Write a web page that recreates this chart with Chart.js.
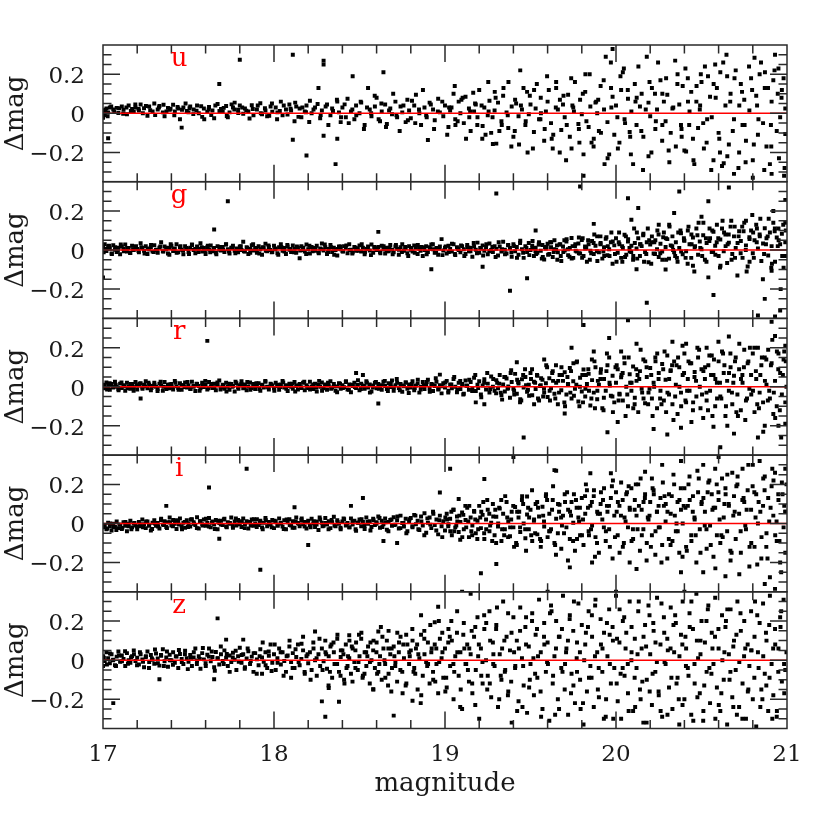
<!DOCTYPE html>
<html>
<head>
<meta charset="utf-8">
<script src="https://cdn.jsdelivr.net/npm/chart.js@4.4.1/dist/chart.umd.min.js"></script>
<style>
  html, body { margin: 0; padding: 0; background: #fff; }
  canvas { display: block; }
</style>
</head>
<body>
<canvas id="residuals" width="830" height="830"></canvas>
<script>
// Photometric residuals per band: flat pairs of magnitude, delta in mmag

const bands = ["u", "g", "r", "i", "z"];
const magTicks = [17, 18, 19, 20, 21];
const dmagTicks = [-0.2, 0, 0.2];
const dmagTickLabels = ["\u22120.2", "0", "0.2"];

const uData = [
  17.00,-22, 17.01,-8, 17.01,12, 17.02,25, 17.03,-127, 17.03,5, 17.04,30, 17.06,20, 17.08,28, 17.09,2,
  17.11,35, 17.12,18, 17.14,-5, 17.15,40, 17.17,22, 17.18,8, 17.19,30,
  17.21,15, 17.22,45, 17.24,26, 17.26,-12, 17.27,35, 17.29,10,
  17.30,50, 17.32,20, 17.33,38, 17.35,5, 17.36,-15, 17.38,28, 17.39,18,
  17.41,44, 17.42,10, 17.44,25, 17.45,-30, 17.46,-73, 17.47,30, 17.49,12,
  17.50,5, 17.51,35, 17.53,20, 17.55,40, 17.56,0, 17.58,-18, 17.59,25,
  17.61,8, 17.62,32, 17.64,15, 17.65,-25, 17.67,48, 17.68,150, 17.69,22,
  17.70,10, 17.72,38, 17.73,-20, 17.74,5, 17.76,30, 17.77,55, 17.79,18,
  17.80,275, 17.80,40, 17.82,-2, 17.83,25, 17.85,10, 17.87,42, 17.88,-10,
  17.90,20, 17.92,52, 17.93,-5, 17.95,15, 17.96,-15, 17.98,35, 17.99,8,
  18.01,30, 18.02,5, 18.04,60, 18.05,-10, 18.07,20, 18.09,45,
  18.10,15, 18.11,300, 18.11,-135, 18.12,-40, 18.13,35, 18.15,25, 18.16,-20, 18.18,10, 18.19,-216, 18.19,40,
  18.21,65, 18.22,0, 18.24,30, 18.26,130, 18.27,-25, 18.28,15, 18.29,270, 18.29,250, 18.29,-115,
  18.31,45, 18.33,-10, 18.34,25, 18.36,-260, 18.37,-130, 18.37,60, 18.38,5, 18.39,-45,
  18.40,30, 18.42,-20, 18.43,75, 18.45,10, 18.46,190, 18.47,-30, 18.48,40,
  18.50,0, 18.51,55, 18.53,-60, 18.55,130, 18.56,20, 18.57,-15, 18.59,35,
  18.60,80, 18.62,-40, 18.63,10, 18.64,210, 18.65,45, 18.66,-55, 18.68,25, 18.69,-5,
  18.71,60, 18.72,-20, 18.74,35, 18.75,5, 18.77,-45, 18.78,70, 18.79,15,
  18.80,-25, 18.82,40, 18.83,95, 18.85,0, 18.86,-60, 18.88,30, 18.89,-10,
  18.90,-137, 18.91,55, 18.93,20, 18.94,-35, 18.96,75, 18.97,5, 18.99,-15,
  19.00,40, 19.02,-70, 19.03,15, 19.05,100, 19.06,-30, 19.08,60, 19.09,0,
  19.11,-50, 19.12,85, 19.14,25, 19.15,-90, 19.17,10, 19.18,45, 19.19,-20,
  19.20,120, 19.22,-65, 19.23,30, 19.25,-10, 19.26,65, 19.27,-100, 19.28,-157, 19.29,15,
  19.30,-155, 19.31,55, 19.33,-40, 19.34,90, 19.36,5, 19.37,-75, 19.39,35,
  19.40,-120, 19.41,70, 19.43,-15, 19.44,220, 19.45,20, 19.47,-60, 19.48,110, 19.49,-5,
  19.50,45, 19.52,-95, 19.53,25, 19.55,-30, 19.56,80, 19.58,-140, 19.59,10,
  19.60,60, 19.62,-50, 19.63,-180, 19.65,160, 19.65,130, 19.66,20, 19.68,-85, 19.69,45,
  19.70,-20, 19.72,95, 19.73,-120, 19.74,-180, 19.75,30, 19.76,160, 19.78,-55, 19.79,70,
  19.80,-5, 19.81,-210, 19.81,-320, 19.82,110, 19.84,-70, 19.85,35, 19.87,-130, 19.88,55, 19.89,0,
  19.90,-90, 19.91,140, 19.93,20, 19.94,290, 19.95,-45, 19.96,-210, 19.97,260, 19.98,330, 19.98,85, 19.99,-110,
  20.00,40, 20.02,-150, 20.03,120, 20.04,210, 20.05,-30, 20.07,75, 20.08,-95, 20.09,10,
  20.10,-260, 20.11,150, 20.12,-60, 20.14,35, 20.15,100, 20.16,-120, 20.18,290, 20.19,-220, 20.19,55,
  20.20,-15, 20.21,130, 20.23,-80, 20.24,20, 20.26,170, 20.27,-140, 20.28,60, 20.29,-40,
  20.30,95, 20.32,-100, 20.33,25, 20.35,-170, 20.36,200, 20.37,45, 20.38,-60, 20.39,140,
  20.40,-190, 20.41,-195, 20.42,180, 20.43,10, 20.44,110, 20.45,-130, 20.47,60, 20.48,-75, 20.49,20,
  20.50,160, 20.51,-50, 20.52,240, 20.53,-150, 20.55,85, 20.56,-20, 20.57,-240, 20.58,250, 20.59,130,
  20.60,-100, 20.61,210, 20.62,-270, 20.63,-255, 20.64,40, 20.65,190, 20.66,-160, 20.67,100, 20.69,-310, 20.69,-30,
  20.70,220, 20.72,-200, 20.73,150, 20.74,-60, 20.75,70, 20.76,-140, 20.78,15, 20.79,180,
  20.80,-240, 20.80,-330, 20.81,285, 20.82,90, 20.83,-110, 20.84,200, 20.86,-50, 20.87,130, 20.88,-170,
  20.90,-260, 20.91,-310, 20.91,60, 20.92,170, 20.93,300, 20.94,-90, 20.95,230, 20.96,-20, 20.97,120, 20.98,180, 20.99,-106, 20.99,25
];
const uMore = [
  17.013,18, 17.027,-15, 17.048,35, 17.066,8, 17.094,26, 17.118,-2, 17.137,30, 17.163,12, 17.189,45,
  17.208,22, 17.233,0, 17.251,38, 17.276,16, 17.305,-8, 17.327,30, 17.354,44, 17.371,10, 17.395,24,
  17.417,-10, 17.436,32, 17.462,18, 17.483,50, 17.506,26, 17.528,-4, 17.547,14, 17.574,36, 17.592,-30,
  17.618,20, 17.633,-8, 17.657,40, 17.681,12, 17.706,28, 17.724,-14, 17.752,46, 17.768,20, 17.791,2,
  17.814,30, 17.838,14, 17.857,-26, 17.876,22, 17.905,40, 17.923,0, 17.947,26, 17.972,-12, 17.988,50,
  18.018,-30, 18.034,12, 18.057,40, 18.079,-6, 18.097,24, 18.124,55, 18.143,-18, 18.166,30, 18.187,6,
  18.206,-44, 18.231,20, 18.255,48, 18.273,-8, 18.302,35, 18.318,-60, 18.345,12, 18.368,70, 18.392,-20,
  18.413,46, 18.437,-50, 18.458,20, 18.481,-10, 18.507,60, 18.526,-80, 18.544,30, 18.568,0, 18.589,90,
  18.612,-30, 18.628,50, 18.655,-70, 18.673,15, 18.697,100, 18.716,-10, 18.735,-90, 18.757,40, 18.783,-35,
  18.807,65, 18.826,-50, 18.848,20, 18.871,120, 18.893,-20, 18.917,45, 18.936,-80, 18.958,10, 18.984,60,
  19.013,-110, 19.038,30, 19.057,140, 19.074,-40, 19.096,70, 19.123,-130, 19.147,10, 19.165,105, 19.189,-60,
  19.214,40, 19.237,-110, 19.253,160, 19.278,-20, 19.296,80, 19.318,-90, 19.342,130, 19.367,-10, 19.388,-170,
  19.416,50, 19.433,-160, 19.459,130, 19.472,-40, 19.496,90, 19.514,-180, 19.537,150, 19.561,0, 19.583,-80,
  19.607,120, 19.624,-130, 19.648,30, 19.671,-200, 19.693,90, 19.712,-60, 19.738,180, 19.754,10, 19.786,-150,
  19.806,100, 19.827,-40, 19.846,200, 19.869,-170, 19.884,60, 19.912,-100, 19.928,170, 19.951,-230, 19.973,30,
  20.011,-180, 20.026,190, 20.053,-50, 20.069,120, 20.087,-210, 20.114,60, 20.131,240, 20.148,-90, 20.174,20,
  20.207,-200, 20.228,100, 20.246,260, 20.271,-60, 20.293,180, 20.312,-250, 20.335,30, 20.359,150, 20.384,-120,
  20.406,230, 20.428,-60, 20.453,-240, 20.471,140, 20.492,40, 20.514,-180, 20.538,190, 20.557,-290, 20.583,80,
  20.604,-130, 20.627,260, 20.651,-220, 20.668,60, 20.693,180, 20.716,-280, 20.737,110, 20.752,-60, 20.778,240,
  20.806,-160, 20.825,40, 20.848,260, 20.867,-290, 20.889,130, 20.906,-60, 20.927,220, 20.953,-230, 20.968,80, 20.986,-280
];
const uCore = [
  19.024,30, 19.061,-60, 19.103,80, 19.142,-20, 19.176,50, 19.218,-130, 19.255,10, 19.291,110, 19.332,-60, 19.371,160,
  19.408,-90, 19.444,40, 19.483,-200, 19.521,120, 19.558,-30, 19.597,190, 19.633,-110, 19.672,70, 19.708,-240, 19.745,40,
  19.783,-80, 19.821,200, 19.857,-150, 19.896,70, 19.933,-260, 19.971,130, 20.008,-20, 20.046,230, 20.083,-120, 20.121,80,
  20.158,-290, 20.196,160, 20.233,-40, 20.271,100, 20.308,-190, 20.346,270, 20.383,-80, 20.421,60, 20.458,-260, 20.496,200,
  20.533,-30, 20.571,150, 20.608,-200, 20.646,300, 20.683,-90, 20.721,40, 20.758,-250, 20.796,120, 20.833,-30, 20.871,210,
  20.908,-170, 20.946,100, 20.983,-320
];

const gData = [
  17.00,-140, 17.00,15, 17.01,30, 17.02,-5, 17.03,20, 17.04,8, 17.05,-18, 17.06,25, 17.07,2, 17.08,-10, 17.09,12,
  17.10,-22, 17.11,18, 17.12,5, 17.13,28, 17.14,-8, 17.15,10, 17.16,-15, 17.17,22, 17.18,0, 17.19,14,
  17.20,6, 17.21,-12, 17.22,35, 17.23,10, 17.24,-4, 17.25,20, 17.26,-20, 17.27,3, 17.28,16, 17.29,-8,
  17.30,25, 17.31,0, 17.32,-14, 17.33,12, 17.34,40, 17.35,-6, 17.36,18, 17.37,4, 17.38,-18, 17.39,10,
  17.40,22, 17.41,-5, 17.42,8, 17.43,30, 17.44,-12, 17.45,15, 17.46,2, 17.47,-22, 17.48,20, 17.49,6,
  17.50,-10, 17.51,12, 17.52,28, 17.53,0, 17.54,-16, 17.55,18, 17.56,5, 17.57,35, 17.58,-8, 17.59,10,
  17.60,-20, 17.61,14, 17.62,3, 17.63,24, 17.64,-6, 17.65,105, 17.65,10, 17.66,-14, 17.67,20, 17.68,2, 17.69,-2,
  17.70,16, 17.71,-10, 17.72,30, 17.73,250, 17.73,4, 17.74,-18, 17.75,12, 17.76,22, 17.77,-4, 17.78,8, 17.79,-12,
  17.80,18, 17.81,0, 17.82,42, 17.83,-8, 17.84,14, 17.85,-20, 17.86,6, 17.87,25, 17.88,-2, 17.89,10,
  17.90,-14, 17.91,20, 17.92,4, 17.93,-24, 17.94,12, 17.95,32, 17.96,-6, 17.97,16, 17.98,0, 17.99,-10,
  18.00,22, 18.01,8, 18.02,-16, 18.03,14, 18.04,30, 18.05,-4, 18.06,10, 18.07,-20, 18.08,18, 18.09,2,
  18.10,-10, 18.11,24, 18.12,6, 18.13,-14, 18.14,12, 18.15,-42, 18.16,20, 18.17,0, 18.18,-8, 18.19,28,
  18.20,4, 18.21,-18, 18.22,16, 18.23,10, 18.24,-4, 18.25,22, 18.26,-12, 18.27,8, 18.28,34, 18.29,-2,
  18.30,14, 18.31,-20, 18.32,6, 18.33,26, 18.34,-10, 18.35,12, 18.36,0, 18.37,-28, 18.38,18, 18.39,4,
  18.40,-6, 18.41,20, 18.42,10, 18.43,-16, 18.44,30, 18.45,2, 18.46,-12, 18.47,16, 18.48,-4, 18.49,8,
  18.50,24, 18.51,-8, 18.52,12, 18.53,-22, 18.54,6, 18.55,18, 18.56,-2, 18.57,28, 18.58,-14, 18.59,10,
  18.60,0, 18.61,93, 18.61,16, 18.62,-10, 18.63,22, 18.64,4, 18.65,-18, 18.66,12, 18.67,-6, 18.68,26, 18.69,2,
  18.70,-12, 18.71,18, 18.72,6, 18.73,-24, 18.74,14, 18.75,30, 18.76,-4, 18.77,10, 18.78,-16, 18.79,20,
  18.80,2, 18.81,-8, 18.82,24, 18.83,12, 18.84,-20, 18.85,6, 18.86,16, 18.87,-30, 18.88,0, 18.89,20,
  18.90,-10, 18.91,14, 18.92,-98, 18.92,28, 18.93,4, 18.94,-14, 18.95,10, 18.96,-24, 18.97,18, 18.98,56, 18.99,-2,
  19.00,12, 19.01,-18, 19.02,22, 19.03,6, 19.04,-8, 19.05,30, 19.06,-26, 19.07,14, 19.08,0, 19.09,-12,
  19.10,20, 19.11,4, 19.12,-20, 19.13,26, 19.14,-6, 19.15,12, 19.16,-34, 19.17,18, 19.18,2, 19.19,38,
  19.20,-14, 19.21,8, 19.22,-86, 19.22,24, 19.23,-4, 19.24,16, 19.25,-22, 19.26,34, 19.27,0, 19.28,-10, 19.29,20,
  19.30,290, 19.30,6, 19.31,-28, 19.32,18, 19.33,-8, 19.34,42, 19.35,2, 19.36,-18, 19.37,24, 19.38,-208, 19.38,10, 19.39,-34,
  19.40,30, 19.41,-6, 19.42,16, 19.43,-24, 19.44,48, 19.45,4, 19.46,-40, 19.47,20, 19.48,-144, 19.48,-10, 19.49,36,
  19.50,0, 19.51,22, 19.52,-30, 19.53,100, 19.53,12, 19.54,-14, 19.55,40, 19.56,-4, 19.57,26, 19.58,-48, 19.59,8,
  19.60,32, 19.61,-20, 19.62,14, 19.63,-36, 19.64,50, 19.65,2, 19.66,-12, 19.67,28, 19.68,-56, 19.69,18,
  19.70,-2, 19.71,44, 19.72,-26, 19.73,10, 19.74,62, 19.75,-40, 19.76,20, 19.77,-8, 19.78,34, 19.79,325, 19.79,-18,
  19.80,52, 19.81,-30, 19.82,8, 19.83,-60, 19.84,30, 19.85,-4, 19.86,46, 19.87,134, 19.87,-20, 19.88,22, 19.89,70,
  19.90,-12, 19.91,36, 19.92,-44, 19.93,14, 19.94,58, 19.95,-26, 19.96,4, 19.97,40, 19.98,-70, 19.99,24,
  20.00,60, 20.01,-14, 20.02,30, 20.03,-40, 20.04,10, 20.05,78, 20.06,-24, 20.07,265, 20.07,44, 20.08,-6, 20.09,155, 20.09,22,
  20.10,-50, 20.11,36, 20.12,-98, 20.12,8, 20.13,215, 20.13,60, 20.14,-30, 20.15,20, 20.16,84, 20.17,-10, 20.18,-270, 20.18,40, 20.19,-62,
  20.20,28, 20.21,70, 20.22,-18, 20.23,50, 20.24,4, 20.25,130, 20.25,-36, 20.26,32, 20.27,-8, 20.28,90, 20.29,-100, 20.29,16,
  20.30,56, 20.31,-44, 20.32,24, 20.33,70, 20.34,190, 20.34,-12, 20.35,40, 20.36,-60, 20.37,300, 20.37,10, 20.38,86, 20.39,-22,
  20.40,48, 20.41,-6, 20.42,100, 20.43,30, 20.44,-40, 20.45,-80, 20.45,64, 20.46,14, 20.47,110, 20.48,-24, 20.49,44,
  20.50,170, 20.50,4, 20.51,76, 20.52,-50, 20.53,36, 20.54,250, 20.54,-140, 20.55,60, 20.56,-10, 20.57,-230, 20.57,94, 20.58,22, 20.59,130,
  20.60,-30, 20.61,54, 20.62,110, 20.63,-6, 20.64,80, 20.65,-66, 20.66,320, 20.66,38, 20.67,120, 20.68,-20, 20.69,70,
  20.70,10, 20.71,-130, 20.72,96, 20.73,46, 20.74,-40, 20.75,140, 20.76,150, 20.76,24, 20.77,-84, 20.78,66, 20.79,100,
  20.80,-16, 20.81,50, 20.82,130, 20.83,-335, 20.83,8, 20.84,80, 20.85,-56, 20.86,34, 20.87,-250, 20.87,112, 20.88,60, 20.89,-28,
  20.90,90, 20.91,-106, 20.91,20, 20.92,200, 20.92,140, 20.93,-340, 20.93,-60, 20.94,64, 20.95,110, 20.96,-310, 20.96,30, 20.97,84, 20.98,-90, 20.99,257, 20.99,140, 20.99,40
];
const gMore = [
  17.004,-12, 17.018,6, 17.035,22, 17.052,-20, 17.071,14, 17.087,-2, 17.104,28, 17.122,-6, 17.141,10, 17.158,-14, 17.176,4, 17.193,20,
  17.207,-4, 17.224,14, 17.243,-18, 17.262,8, 17.281,26, 17.297,-10, 17.316,2, 17.335,18, 17.353,-8, 17.372,12, 17.388,-24, 17.396,30,
  17.414,4, 17.431,-14, 17.453,20, 17.468,-2, 17.487,10, 17.503,-20, 17.521,26, 17.539,6, 17.558,-10, 17.577,14, 17.596,-4,
  17.613,22, 17.627,-12, 17.646,8, 17.663,-22, 17.684,16, 17.702,0, 17.719,28, 17.737,-8, 17.756,12, 17.774,-16, 17.793,4,
  17.806,20, 17.824,-6, 17.843,10, 17.861,-14, 17.878,30, 17.897,2, 17.914,-18, 17.933,14, 17.952,-4, 17.968,24, 17.987,-12,
  18.006,4, 18.025,-24, 18.043,16, 18.061,-8, 18.078,26, 18.097,6, 18.116,-12, 18.134,18, 18.153,-2, 18.171,12, 18.188,-20,
  18.207,22, 18.226,-6, 18.243,10, 18.262,-16, 18.279,4, 18.297,28, 18.316,-10, 18.334,14, 18.352,-24, 18.371,6, 18.389,18,
  18.404,-8, 18.423,24, 18.442,0, 18.458,-18, 18.477,12, 18.494,-4, 18.513,30, 18.532,-12, 18.548,8, 18.567,-26, 18.586,16,
  18.603,4, 18.622,-16, 18.641,20, 18.659,-6, 18.676,12, 18.694,-22, 18.713,26, 18.731,2, 18.748,-10, 18.767,16, 18.785,-30,
  18.804,10, 18.823,-14, 18.841,26, 18.857,-4, 18.874,14, 18.893,-22, 18.912,6, 18.929,30, 18.948,-12, 18.966,8, 18.985,-26,
  19.004,18, 19.022,-10, 19.041,32, 19.058,-20, 19.076,6, 19.094,24, 19.113,-30, 19.131,14, 19.149,-6, 19.168,36, 19.187,-16,
  19.206,10, 19.223,-28, 19.242,30, 19.259,-6, 19.277,16, 19.296,-36, 19.314,40, 19.333,4, 19.351,-22, 19.369,26, 19.388,-12,
  19.404,20, 19.421,-40, 19.439,36, 19.457,-14, 19.476,10, 19.493,-26, 19.512,46, 19.529,-6, 19.548,28, 19.566,-44, 19.585,16,
  19.603,-24, 19.621,40, 19.639,4, 19.657,-50, 19.674,30, 19.692,-10, 19.711,56, 19.728,-34, 19.746,20, 19.764,-4, 19.783,64,
  19.802,-40, 19.819,18, 19.837,50, 19.855,-16, 19.873,80, 19.891,-56, 19.909,30, 19.926,-8, 19.944,66, 19.962,-30, 19.981,44,
  20.003,-60, 20.018,90, 20.036,20, 20.053,-36, 20.071,56, 20.089,-10, 20.106,110, 20.124,-44, 20.141,30, 20.159,76, 20.177,-20, 20.194,50,
  20.206,-70, 20.224,40, 20.242,100, 20.259,-16, 20.276,66, 20.293,-50, 20.311,130, 20.329,20, 20.346,-30, 20.364,90, 20.381,-8, 20.397,60,
  20.407,-40, 20.424,120, 20.442,30, 20.458,-110, 20.476,76, 20.493,10, 20.511,140, 20.529,-60, 20.546,46, 20.563,100, 20.581,-24, 20.598,60,
  20.608,-90, 20.623,150, 20.641,20, 20.659,80, 20.676,-50, 20.694,120, 20.711,36, 20.729,-16, 20.746,96, 20.764,-110, 20.781,56, 20.797,180,
  20.806,-40, 20.824,110, 20.841,70, 20.859,-150, 20.877,30, 20.893,160, 20.912,-70, 20.928,96, 20.946,20, 20.963,-200, 20.978,130, 20.994,-30
];
const gCore = [
  19.512,10, 19.533,-20, 19.551,30, 19.572,-36, 19.594,16, 19.615,40, 19.636,-10, 19.655,24, 19.677,-30, 19.698,50,
  19.719,4, 19.741,-44, 19.762,30, 19.783,-16, 19.805,60, 19.826,10, 19.847,-50, 19.869,36, 19.888,-6, 19.909,70,
  19.931,-30, 19.952,20, 19.973,90, 19.994,-20, 20.016,40, 20.037,-60, 20.058,70, 20.079,10, 20.101,-30, 20.122,90,
  20.143,30, 20.164,-60, 20.186,110, 20.207,40, 20.228,-20, 20.249,80, 20.271,-50, 20.292,60, 20.313,120, 20.334,0,
  20.356,-40, 20.377,100, 20.398,50, 20.419,-70, 20.441,80, 20.462,20, 20.483,140, 20.504,-30, 20.526,60, 20.547,110,
  20.568,-10, 20.589,40, 20.611,-80, 20.632,90, 20.653,30, 20.674,150, 20.696,-40, 20.717,70, 20.738,120, 20.759,0,
  20.781,-60, 20.802,90, 20.823,40, 20.844,160, 20.866,-20, 20.887,70, 20.908,-90, 20.929,110, 20.951,50, 20.972,-30, 20.993,100
];

const rData = [
  17.00,10, 17.01,-8, 17.02,22, 17.03,4, 17.04,-16, 17.05,14, 17.06,-4, 17.07,26, 17.08,0, 17.09,-12,
  17.10,16, 17.11,-6, 17.12,8, 17.13,-20, 17.14,20, 17.15,2, 17.16,-10, 17.17,14, 17.18,-2, 17.19,24,
  17.20,-14, 17.21,6, 17.22,-60, 17.22,18, 17.23,-4, 17.24,10, 17.25,28, 17.26,-8, 17.27,12, 17.28,-18, 17.29,4,
  17.30,20, 17.31,0, 17.32,-12, 17.33,16, 17.34,6, 17.35,-20, 17.36,24, 17.37,-2, 17.38,10, 17.39,-8,
  17.40,14, 17.41,-14, 17.42,30, 17.43,2, 17.44,-6, 17.45,18, 17.46,-16, 17.47,8, 17.48,22, 17.49,-4,
  17.50,6, 17.51,-10, 17.52,26, 17.53,0, 17.54,-22, 17.55,14, 17.56,4, 17.57,-8, 17.58,20, 17.59,-2,
  17.60,12, 17.61,235, 17.61,-14, 17.62,24, 17.63,2, 17.64,-6, 17.65,16, 17.66,-18, 17.67,8, 17.68,32, 17.69,-4,
  17.70,10, 17.71,-10, 17.72,20, 17.73,0, 17.74,-16, 17.75,14, 17.76,4, 17.77,-24, 17.78,18, 17.79,-2,
  17.80,8, 17.81,28, 17.82,-8, 17.83,12, 17.84,-18, 17.85,2, 17.86,22, 17.87,-6, 17.88,14, 17.89,-12,
  17.90,4, 17.91,18, 17.92,-20, 17.93,10, 17.94,-4, 17.95,26, 17.96,0, 17.97,-14, 17.98,16, 17.99,6,
  18.00,-8, 18.01,20, 18.02,2, 18.03,-16, 18.04,12, 18.05,30, 18.06,-4, 18.07,8, 18.08,-22, 18.09,16,
  18.10,0, 18.11,-10, 18.12,24, 18.13,4, 18.14,-14, 18.15,14, 18.16,-2, 18.17,20, 18.18,-18, 18.19,8,
  18.20,-6, 18.21,26, 18.22,2, 18.23,-12, 18.24,16, 18.25,-24, 18.26,10, 18.27,0, 18.28,22, 18.29,-8,
  18.30,12, 18.31,-16, 18.32,6, 18.33,28, 18.34,-4, 18.35,14, 18.36,-20, 18.37,2, 18.38,18, 18.39,-10,
  18.40,8, 18.41,-2, 18.42,24, 18.43,-14, 18.44,12, 18.45,-28, 18.46,4, 18.47,20, 18.48,70, 18.48,-6, 18.49,10,
  18.50,-18, 18.51,16, 18.52,60, 18.52,2, 18.53,-10, 18.54,28, 18.55,-4, 18.56,12, 18.57,-24, 18.58,6, 18.59,20,
  18.60,-8, 18.61,-86, 18.61,14, 18.62,0, 18.63,-16, 18.64,26, 18.65,4, 18.66,-12, 18.67,18, 18.68,-2, 18.69,32,
  18.70,-20, 18.71,8, 18.72,20, 18.73,-6, 18.74,14, 18.75,-26, 18.76,2, 18.77,22, 18.78,-10, 18.79,12,
  18.80,-4, 18.81,28, 18.82,-18, 18.83,6, 18.84,16, 18.85,-30, 18.86,0, 18.87,24, 18.88,-12, 18.89,10,
  18.90,36, 18.91,-8, 18.92,14, 18.93,-22, 18.94,4, 18.95,26, 18.96,-14, 18.97,62, 18.97,8, 18.98,-34, 18.99,18,
  19.00,-4, 19.01,30, 19.02,-20, 19.03,10, 19.04,-8, 19.05,40, 19.06,0, 19.07,-28, 19.08,20, 19.09,-12,
  19.10,14, 19.11,-36, 19.12,32, 19.13,4, 19.14,-16, 19.15,24, 19.16,-6, 19.17,46, 19.18,-80, 19.18,-22, 19.19,10,
  19.20,28, 19.21,-40, 19.22,6, 19.23,-90, 19.23,38, 19.24,-14, 19.25,16, 19.26,-30, 19.27,52, 19.28,0, 19.29,-20,
  19.30,34, 19.31,-8, 19.32,60, 19.33,-44, 19.34,12, 19.35,-24, 19.36,42, 19.37,2, 19.38,-56, 19.39,24,
  19.40,-10, 19.41,66, 19.42,125, 19.42,-36, 19.43,16, 19.44,-64, 19.45,38, 19.46,-260, 19.46,-4, 19.47,50, 19.48,-26, 19.49,10,
  19.50,70, 19.51,-44, 19.52,26, 19.53,-12, 19.54,56, 19.55,-70, 19.56,8, 19.57,36, 19.58,140, 19.58,-30, 19.59,18,
  19.60,-52, 19.61,44, 19.62,-8, 19.63,80, 19.64,-36, 19.65,20, 19.66,-90, 19.67,60, 19.68,-18, 19.69,30,
  19.70,-137, 19.70,74, 19.71,-40, 19.72,12, 19.73,96, 19.74,200, 19.74,-60, 19.75,28, 19.76,-10, 19.77,125, 19.78,-76, 19.79,46,
  19.80,-24, 19.81,316, 19.81,88, 19.82,-50, 19.83,14, 19.84,66, 19.85,-96, 19.86,34, 19.87,180, 19.87,-30, 19.88,100, 19.89,-64,
  19.90,10, 19.91,72, 19.92,-110, 19.93,40, 19.94,-20, 19.95,-233, 19.95,110, 19.96,250, 19.96,150, 19.97,-46, 19.98,56, 19.99,-80,
  20.00,20, 20.01,-180, 20.01,90, 20.02,-36, 20.03,180, 20.03,48, 20.04,-70, 20.05,120, 20.06,0, 20.07,340, 20.07,-100, 20.08,64, 20.09,-20,
  20.10,104, 20.11,-56, 20.12,220, 20.12,30, 20.13,-130, 20.14,80, 20.15,-10, 20.16,140, 20.17,-84, 20.18,50, 20.19,-30,
  20.20,96, 20.21,-60, 20.22,-216, 20.22,20, 20.23,150, 20.24,-110, 20.25,70, 20.26,-20, 20.27,116, 20.28,-70, 20.29,36,
  20.30,-245, 20.30,160, 20.31,-40, 20.32,84, 20.33,230, 20.33,-90, 20.34,130, 20.35,10, 20.36,-140, 20.37,100, 20.38,-210, 20.38,-30, 20.39,60,
  20.40,170, 20.41,220, 20.41,-80, 20.42,40, 20.43,-20, 20.44,120, 20.45,-120, 20.46,76, 20.47,-50, 20.48,150, 20.49,0,
  20.50,90, 20.51,-160, 20.52,40, 20.53,200, 20.53,-70, 20.54,110, 20.55,-20, 20.56,160, 20.57,-205, 20.57,60, 20.58,-100, 20.59,20,
  20.60,130, 20.61,-310, 20.61,-50, 20.62,180, 20.63,70, 20.64,-150, 20.65,30, 20.66,257, 20.66,-20, 20.67,100, 20.68,-90, 20.69,-240, 20.69,56,
  20.70,150, 20.71,-40, 20.72,90, 20.73,-120, 20.74,20, 20.75,190, 20.76,-70, 20.77,120, 20.78,-10, 20.79,60,
  20.80,170, 20.81,-130, 20.82,40, 20.83,-260, 20.83,200, 20.84,-30, 20.85,110, 20.86,-80, 20.87,-200, 20.87,150, 20.88,10, 20.89,190,
  20.90,-60, 20.91,333, 20.91,120, 20.92,-140, 20.93,260, 20.93,30, 20.94,-100, 20.95,-200, 20.95,170, 20.96,70, 20.97,-40, 20.98,140, 20.99,-190, 20.99,210, 20.99,-80
];
const rMore = [
  17.006,4, 17.024,-14, 17.039,18, 17.057,-2, 17.074,10, 17.091,-18, 17.108,22, 17.126,2, 17.144,-8, 17.161,14, 17.179,-20, 17.196,6,
  17.213,16, 17.231,-10, 17.248,2, 17.266,20, 17.284,-6, 17.301,10, 17.319,-22, 17.337,26, 17.354,0, 17.371,-12, 17.389,12,
  17.406,-4, 17.424,20, 17.442,-16, 17.459,8, 17.477,-2, 17.494,24, 17.512,-12, 17.529,4, 17.547,16, 17.565,-20, 17.583,10, 17.598,30,
  17.616,-8, 17.634,14, 17.651,-2, 17.669,22, 17.687,-14, 17.704,6, 17.722,-24, 17.739,16, 17.757,0, 17.775,26, 17.792,-10,
  17.809,14, 17.827,-6, 17.844,24, 17.862,-16, 17.879,4, 17.897,18, 17.914,-12, 17.932,8, 17.949,30, 17.967,-4, 17.984,12,
  18.002,-20, 18.019,10, 18.037,-2, 18.054,22, 18.072,-10, 18.089,4, 18.107,16, 18.124,-24, 18.142,8, 18.159,-6, 18.177,26, 18.194,0,
  18.211,-14, 18.229,12, 18.246,-4, 18.264,30, 18.281,-20, 18.299,6, 18.316,20, 18.334,-10, 18.351,2, 18.369,-28, 18.386,16,
  18.403,-6, 18.421,28, 18.438,-16, 18.456,10, 18.473,-2, 18.491,34, 18.508,-12, 18.526,6, 18.543,20, 18.561,-30, 18.578,-4, 18.596,24,
  18.613,-10, 18.631,8, 18.648,30, 18.666,-22, 18.683,14, 18.701,-4, 18.718,40, 18.736,-18, 18.753,6, 18.771,22, 18.788,-32,
  18.806,14, 18.823,-6, 18.841,36, 18.858,-14, 18.876,4, 18.893,24, 18.911,-26, 18.928,12, 18.946,44, 18.963,-10, 18.981,2,
  19.002,22, 19.019,-30, 19.037,12, 19.054,50, 19.072,-14, 19.089,30, 19.107,-40, 19.124,6, 19.142,36, 19.159,-22, 19.177,60, 19.194,-6,
  19.212,-54, 19.229,20, 19.247,70, 19.264,-12, 19.282,40, 19.299,-34, 19.317,16, 19.334,-66, 19.352,50, 19.369,-6, 19.387,84,
  19.404,-20, 19.422,36, 19.439,-80, 19.457,60, 19.474,8, 19.492,-46, 19.509,90, 19.527,20, 19.544,-60, 19.562,44, 19.579,-10, 19.597,100,
  19.614,-70, 19.632,30, 19.649,110, 19.667,-30, 19.684,60, 19.702,-100, 19.719,14, 19.737,80, 19.754,-46, 19.772,130, 19.789,0,
  19.807,-80, 19.824,60, 19.842,-20, 19.859,140, 19.877,-110, 19.894,30, 19.912,90, 19.929,-56, 19.947,170, 19.964,6, 19.982,-130,
  20.004,110, 20.021,-40, 20.039,70, 20.056,-150, 20.074,150, 20.091,20, 20.109,-90, 20.126,60, 20.144,190, 20.161,-60, 20.179,100, 20.196,-10,
  20.214,-150, 20.231,130, 20.249,40, 20.266,-90, 20.284,180, 20.301,-30, 20.319,80, 20.336,-170, 20.354,110, 20.371,0, 20.389,210,
  20.406,-70, 20.424,130, 20.441,-180, 20.459,50, 20.476,200, 20.494,-110, 20.511,80, 20.529,-30, 20.546,160, 20.564,-150, 20.581,40, 20.599,230,
  20.616,-60, 20.634,110, 20.651,-200, 20.669,170, 20.686,20, 20.704,-130, 20.721,220, 20.739,60, 20.756,-170, 20.774,130, 20.791,-40,
  20.809,200, 20.826,-90, 20.844,60, 20.861,-230, 20.879,140, 20.896,-20, 20.914,240, 20.931,-160, 20.949,90, 20.966,-260, 20.984,180, 20.997,0
];
const rCore = [
  19.305,20, 19.326,-30, 19.347,50, 19.366,-10, 19.384,70, 19.405,-40, 19.428,24, 19.446,-70, 19.468,90, 19.485,-16,
  19.503,40, 19.521,-90, 19.538,60, 19.556,4, 19.574,-50, 19.592,110, 19.612,-20, 19.627,70, 19.645,-60, 19.662,30,
  19.681,100, 19.698,-80, 19.716,50, 19.733,-30, 19.751,120, 19.768,10, 19.786,-100, 19.803,60, 19.821,-10, 19.838,90,
  19.856,-60, 19.874,130, 19.891,-20, 19.909,40, 19.927,-120, 19.944,80, 19.962,20, 19.979,-50, 19.997,100, 20.015,-70,
  20.032,60, 20.048,150, 20.066,-40, 20.083,20, 20.101,-110, 20.118,90, 20.136,40, 20.153,-30, 20.171,130, 20.188,-90,
  20.206,60, 20.223,0, 20.241,170, 20.258,-60, 20.276,90, 20.293,-130, 20.311,40, 20.328,110, 20.346,-50, 20.363,150,
  20.381,-100, 20.398,70, 20.416,-20, 20.433,120, 20.451,-80, 20.468,30, 20.486,190, 20.503,-40, 20.521,100, 20.538,-120,
  20.556,60, 20.573,140, 20.591,-60, 20.608,20, 20.626,170, 20.643,-100, 20.661,70, 20.678,-30, 20.696,130, 20.713,-150,
  20.731,40, 20.748,100, 20.766,-60, 20.783,200, 20.801,-20, 20.818,80, 20.836,-110, 20.853,150, 20.871,30, 20.888,-70,
  20.906,110, 20.923,-30, 20.941,180, 20.958,-120, 20.976,60, 20.993,130
];

const iData = [
  17.00,-20, 17.01,-8, 17.02,-30, 17.03,4, 17.04,-14, 17.05,-36, 17.06,-2, 17.07,-18, 17.08,10, 17.09,-24,
  17.10,-6, 17.11,-28, 17.12,6, 17.13,-12, 17.14,-40, 17.15,-2, 17.16,14, 17.17,-20, 17.18,0, 17.19,-10,
  17.20,-30, 17.21,8, 17.22,-14, 17.23,20, 17.24,-4, 17.25,-24, 17.26,10, 17.27,-8, 17.28,-36, 17.29,4,
  17.30,16, 17.31,-12, 17.32,2, 17.33,-26, 17.34,24, 17.35,-6, 17.36,12, 17.37,90, 17.37,-18, 17.38,6, 17.39,30,
  17.40,-10, 17.41,18, 17.42,-2, 17.43,-28, 17.44,10, 17.45,26, 17.46,-14, 17.47,4, 17.48,-22, 17.49,16,
  17.50,0, 17.51,-16, 17.52,22, 17.53,6, 17.54,-8, 17.55,32, 17.56,-26, 17.57,12, 17.58,-4, 17.59,20,
  17.60,-12, 17.61,4, 17.62,184, 17.62,28, 17.63,-20, 17.64,10, 17.65,-6, 17.66,18, 17.67,-30, 17.68,-78, 17.68,2, 17.69,14,
  17.70,-8, 17.71,24, 17.72,-16, 17.73,6, 17.74,-2, 17.75,30, 17.76,-22, 17.77,10, 17.78,-10, 17.79,18,
  17.80,2, 17.81,-18, 17.82,26, 17.83,-4, 17.84,280, 17.84,12, 17.85,-26, 17.86,8, 17.87,20, 17.88,-12, 17.89,0,
  17.90,22, 17.91,-8, 17.92,-237, 17.92,14, 17.93,-20, 17.94,4, 17.95,28, 17.96,-14, 17.97,8, 17.98,-4, 17.99,18,
  18.00,-24, 18.01,10, 18.02,-6, 18.03,26, 18.04,0, 18.05,-16, 18.06,16, 18.07,-30, 18.08,6, 18.09,22,
  18.10,-10, 18.11,12, 18.12,83, 18.12,-22, 18.13,30, 18.14,2, 18.15,-14, 18.16,18, 18.17,-4, 18.18,8, 18.19,-26,
  18.20,-110, 18.20,14, 18.21,-8, 18.22,24, 18.23,0, 18.24,-18, 18.25,10, 18.26,-34, 18.27,20, 18.28,4, 18.29,-12,
  18.30,28, 18.31,-6, 18.32,12, 18.33,-24, 18.34,6, 18.35,34, 18.36,-14, 18.37,16, 18.38,-2, 18.39,-30,
  18.40,10, 18.41,22, 18.42,-10, 18.43,2, 18.44,-20, 18.45,90, 18.45,26, 18.46,-6, 18.47,14, 18.48,-38, 18.49,4,
  18.50,20, 18.51,-14, 18.52,130, 18.52,8, 18.53,-28, 18.54,30, 18.55,-2, 18.56,12, 18.57,-18, 18.58,24, 18.59,-8,
  18.60,6, 18.61,36, 18.62,-22, 18.63,14, 18.64,-90, 18.64,-4, 18.65,26, 18.66,-32, 18.67,8, 18.68,18, 18.69,-12,
  18.70,32, 18.71,-6, 18.72,-100, 18.72,16, 18.73,-26, 18.74,40, 18.75,2, 18.76,-16, 18.77,24, 18.78,-40, 18.79,10,
  18.80,28, 18.81,-20, 18.82,44, 18.83,-4, 18.84,14, 18.85,-34, 18.86,36, 18.87,-10, 18.88,52, 18.89,-48,
  18.90,4, 18.91,30, 18.92,-24, 18.93,60, 18.94,-8, 18.95,20, 18.96,-56, 18.97,159, 18.97,40, 18.98,-14, 18.99,12,
  19.00,-36, 19.01,50, 19.02,-4, 19.03,280, 19.03,24, 19.04,-60, 19.05,70, 19.06,-20, 19.07,36, 19.08,125, 19.08,-44, 19.09,8,
  19.10,-350, 19.10,56, 19.11,-30, 19.12,18, 19.13,80, 19.14,-70, 19.15,30, 19.16,-10, 19.17,64, 19.18,-50, 19.19,14,
  19.20,90, 19.21,-255, 19.21,-24, 19.22,44, 19.23,228, 19.23,-80, 19.24,20, 19.25,70, 19.26,-40, 19.27,4, 19.28,100, 19.29,-60,
  19.30,-208, 19.30,34, 19.31,-16, 19.32,76, 19.33,-90, 19.34,50, 19.35,-30, 19.36,110, 19.37,10, 19.38,-66, 19.39,60,
  19.40,340, 19.40,-20, 19.41,84, 19.42,-110, 19.43,30, 19.44,-44, 19.45,120, 19.46,0, 19.47,-76, 19.48,138, 19.48,46, 19.49,-30,
  19.50,70, 19.51,-90, 19.52,14, 19.53,100, 19.54,-56, 19.55,36, 19.56,-120, 19.57,86, 19.58,-16, 19.59,140,
  19.60,-350, 19.60,-70, 19.61,50, 19.62,-30, 19.63,120, 19.64,273, 19.64,-100, 19.65,270, 19.65,24, 19.66,-50, 19.67,96, 19.68,-130, 19.69,40,
  19.70,150, 19.71,-20, 19.72,70, 19.73,-225, 19.73,-80, 19.74,110, 19.75,4, 19.76,-140, 19.77,80, 19.78,30, 19.79,-60,
  19.80,130, 19.81,-110, 19.82,50, 19.83,170, 19.84,-40, 19.85,257, 19.85,90, 19.86,-200, 19.86,-10, 19.87,140, 19.88,-70, 19.89,60,
  19.90,-150, 19.91,100, 19.92,20, 19.93,180, 19.94,-90, 19.95,60, 19.96,-30, 19.97,257, 19.97,130, 19.98,-180, 19.99,40,
  20.00,-350, 20.00,160, 20.01,-60, 20.02,90, 20.03,210, 20.04,-120, 20.05,30, 20.06,150, 20.07,-20, 20.08,-200, 20.08,80, 20.09,180,
  20.10,-80, 20.11,120, 20.12,-233, 20.12,40, 20.13,200, 20.14,-140, 20.15,70, 20.16,-30, 20.17,265, 20.17,150, 20.18,-100, 20.19,20,
  20.20,110, 20.21,230, 20.21,-60, 20.22,170, 20.23,-160, 20.24,60, 20.25,-20, 20.26,130, 20.27,300, 20.27,-110, 20.28,90, 20.29,10,
  20.30,-180, 20.31,150, 20.32,50, 20.33,-90, 20.34,200, 20.35,-40, 20.36,110, 20.37,-150, 20.38,320, 20.38,-250, 20.38,70, 20.39,0,
  20.40,-350, 20.40,180, 20.41,-120, 20.42,90, 20.43,240, 20.44,-60, 20.45,140, 20.46,20, 20.47,-200, 20.48,160, 20.49,-30,
  20.50,100, 20.51,300, 20.51,-250, 20.52,60, 20.53,-130, 20.54,210, 20.55,-10, 20.56,150, 20.57,-170, 20.58,280, 20.58,80, 20.59,-60,
  20.60,340, 20.60,120, 20.61,-100, 20.62,230, 20.63,30, 20.64,-270, 20.64,180, 20.65,-40, 20.66,90, 20.67,-190, 20.68,260, 20.69,140,
  20.70,-80, 20.71,200, 20.72,50, 20.73,-150, 20.74,280, 20.75,110, 20.76,-30, 20.77,170, 20.78,-220, 20.79,70,
  20.80,300, 20.81,-120, 20.82,150, 20.83,0, 20.84,320, 20.85,-180, 20.86,90, 20.87,-310, 20.87,240, 20.88,-50, 20.89,130,
  20.90,-275, 20.91,190, 20.92,40, 20.93,-335, 20.93,260, 20.94,-90, 20.95,120, 20.96,-200, 20.97,210, 20.98,-20, 20.99,280, 20.99,-150, 20.99,60
];
const iMore = [
  17.007,-12, 17.025,-26, 17.042,0, 17.061,-18, 17.078,-34, 17.096,-6, 17.113,-22, 17.131,8, 17.149,-14, 17.166,-30, 17.184,2, 17.199,-16,
  17.217,-4, 17.234,-20, 17.252,10, 17.269,-12, 17.287,-28, 17.304,0, 17.322,-16, 17.339,18, 17.357,-8, 17.374,-24, 17.392,6,
  17.409,-14, 17.427,16, 17.444,-6, 17.462,-30, 17.479,8, 17.497,-18, 17.514,20, 17.532,-2, 17.549,-24, 17.567,12, 17.584,-10,
  17.602,24, 17.619,-16, 17.637,4, 17.654,-28, 17.672,14, 17.689,-6, 17.707,20, 17.724,-20, 17.742,2, 17.759,-12, 17.777,26, 17.794,-4,
  17.812,12, 17.829,-24, 17.847,6, 17.864,-10, 17.882,22, 17.899,-18, 17.917,2, 17.934,-30, 17.952,16, 17.969,-6, 17.987,-20,
  18.004,14, 18.022,-12, 18.039,4, 18.057,-28, 18.074,20, 18.092,-8, 18.109,-22, 18.127,10, 18.144,-2, 18.162,26, 18.179,-16, 18.197,6,
  18.214,-20, 18.232,12, 18.249,-6, 18.267,30, 18.284,-14, 18.302,2, 18.319,-30, 18.337,18, 18.354,-10, 18.372,8, 18.389,-22,
  18.407,26, 18.424,-4, 18.442,-20, 18.459,12, 18.477,-30, 18.494,4, 18.512,22, 18.529,-12, 18.547,8, 18.564,-36, 18.582,16, 18.599,-2,
  18.617,28, 18.634,-18, 18.652,6, 18.669,-40, 18.687,20, 18.704,-8, 18.722,36, 18.739,-24, 18.757,2, 18.774,-50, 18.792,22,
  18.809,-14, 18.827,40, 18.844,-30, 18.862,10, 18.879,-60, 18.897,26, 18.914,-6, 18.932,50, 18.949,-36, 18.967,16, 18.984,-70,
  19.002,30, 19.019,-14, 19.037,60, 19.054,-40, 19.072,10, 19.089,-84, 19.107,44, 19.124,-20, 19.142,90, 19.159,-60, 19.177,20, 19.194,-30,
  19.212,60, 19.229,-50, 19.247,120, 19.264,-10, 19.282,36, 19.299,-100, 19.317,80, 19.334,-30, 19.352,140, 19.369,-70, 19.387,20,
  19.404,-120, 19.422,60, 19.439,-20, 19.457,100, 19.474,-140, 19.492,30, 19.509,170, 19.527,-50, 19.544,80, 19.562,-90, 19.579,10, 19.597,120,
  19.614,-40, 19.632,190, 19.649,-160, 19.667,60, 19.684,-10, 19.702,110, 19.719,-190, 19.737,40, 19.754,150, 19.772,-80, 19.789,80,
  19.807,20, 19.824,200, 19.842,-60, 19.859,110, 19.877,-170, 19.894,50, 19.912,160, 19.929,-20, 19.947,90, 19.964,-120, 19.982,220,
  20.004,60, 20.021,-150, 20.039,120, 20.056,10, 20.074,190, 20.091,-90, 20.109,70, 20.126,-30, 20.144,230, 20.161,110, 20.179,-190, 20.196,40,
  20.214,180, 20.231,-40, 20.249,90, 20.266,-200, 20.284,140, 20.301,60, 20.319,-110, 20.336,250, 20.354,0, 20.371,120, 20.389,-170,
  20.406,80, 20.424,200, 20.441,-90, 20.459,30, 20.476,270, 20.494,-150, 20.511,130, 20.529,-30, 20.546,220, 20.564,70, 20.581,-230, 20.599,160,
  20.616,-60, 20.634,100, 20.651,250, 20.669,-140, 20.686,40, 20.704,190, 20.721,-260, 20.739,120, 20.756,-10, 20.774,300, 20.791,-100,
  20.809,160, 20.826,-210, 20.844,60, 20.861,230, 20.879,-120, 20.896,10, 20.914,280, 20.931,-60, 20.949,150, 20.966,-250, 20.984,90, 20.997,200
];
const iCore = [
  19.012,20, 19.031,-40, 19.049,70, 19.066,-10, 19.084,40, 19.101,-70, 19.119,90, 19.136,10, 19.154,-40, 19.171,60,
  19.189,-80, 19.206,30, 19.224,110, 19.241,-30, 19.259,50, 19.276,-90, 19.294,70, 19.311,0, 19.329,120, 19.346,-60,
  19.364,30, 19.381,-20, 19.399,90, 19.416,-100, 19.434,60, 19.451,140, 19.469,-30, 19.486,80, 19.504,-60, 19.521,20,
  19.539,110, 19.556,-80, 19.574,40, 19.591,150, 19.609,-40, 19.626,70, 19.644,-110, 19.661,100, 19.679,30, 19.696,-50,
  19.714,160, 19.731,60, 19.749,-90, 19.766,120, 19.784,10, 19.801,-60, 19.819,140, 19.836,80, 19.854,-30, 19.871,170,
  19.889,-100, 19.906,50, 19.924,120, 19.941,-40, 19.959,90, 19.976,190, 19.994,-70, 20.011,110, 20.029,40, 20.046,-100,
  20.064,160, 20.081,70, 20.099,-30, 20.116,200, 20.134,90, 20.151,-60, 20.169,130, 20.186,30, 20.204,-120, 20.221,150,
  20.239,60, 20.256,-20, 20.274,210, 20.291,100, 20.309,-80, 20.326,140, 20.344,40, 20.361,-40, 20.379,180, 20.396,90,
  20.414,-140, 20.431,120, 20.449,60, 20.466,-60, 20.484,230, 20.501,110, 20.519,-10, 20.536,160, 20.554,-110, 20.571,80,
  20.589,200, 20.606,20, 20.624,-70, 20.641,150, 20.659,100, 20.676,-150, 20.694,60, 20.711,240, 20.729,-40, 20.746,130,
  20.764,70, 20.781,-120, 20.799,190, 20.816,30, 20.834,110, 20.851,-70, 20.869,170, 20.886,-180, 20.904,80, 20.921,220,
  20.939,10, 20.956,-90, 20.974,150, 20.991,60
];

const zData = [
  17.00,-30, 17.00,20, 17.01,-4, 17.02,40, 17.03,10, 17.04,-16, 17.05,30, 17.06,-220, 17.06,2, 17.07,-26, 17.08,18, 17.09,44,
  17.10,-8, 17.11,24, 17.12,6, 17.13,-30, 17.14,36, 17.15,0, 17.16,-14, 17.17,20, 17.18,50, 17.19,-4,
  17.20,12, 17.21,-22, 17.22,30, 17.23,4, 17.24,-36, 17.25,16, 17.26,44, 17.27,-10, 17.28,26, 17.29,2,
  17.30,-18, 17.31,34, 17.32,8, 17.33,-98, 17.33,-28, 17.34,22, 17.35,56, 17.36,-6, 17.37,14, 17.38,-34, 17.39,28,
  17.40,0, 17.41,40, 17.42,-14, 17.43,18, 17.44,-40, 17.45,32, 17.46,6, 17.47,-20, 17.48,48, 17.49,10,
  17.50,-8, 17.51,26, 17.52,-30, 17.53,14, 17.54,60, 17.55,-2, 17.56,20, 17.57,-44, 17.58,36, 17.59,4,
  17.60,-16, 17.61,28, 17.62,60, 17.63,-6, 17.64,16, 17.65,-98, 17.65,-36, 17.66,42, 17.67,214, 17.67,8, 17.68,-22, 17.69,30,
  17.70,-4, 17.71,50, 17.72,105, 17.72,12, 17.73,-30, 17.74,24, 17.75,-10, 17.76,38, 17.77,2, 17.78,-50, 17.79,20,
  17.80,64, 17.81,-14, 17.82,105, 17.82,30, 17.83,-36, 17.84,8, 17.85,46, 17.86,-20, 17.87,18, 17.88,-60, 17.89,36,
  17.90,4, 17.91,-26, 17.92,56, 17.93,-70, 17.93,14, 17.94,-8, 17.95,40, 17.96,-40, 17.97,22, 17.98,80, 17.99,-14,
  18.00,30, 18.01,-50, 18.02,10, 18.03,60, 18.04,-22, 18.05,40, 18.06,-4, 18.07,-60, 18.08,24, 18.09,70,
  18.10,-90, 18.10,-10, 18.11,36, 18.12,-40, 18.13,16, 18.14,80, 18.15,-26, 18.16,6, 18.17,120, 18.17,50, 18.18,-70, 18.19,20,
  18.20,-16, 18.21,40, 18.22,-50, 18.23,90, 18.24,147, 18.24,0, 18.25,-80, 18.26,30, 18.27,-30, 18.28,-211, 18.28,60, 18.29,-6,
  18.30,-290, 18.30,100, 18.31,-44, 18.32,-143, 18.32,20, 18.33,70, 18.34,-90, 18.35,40, 18.36,-20, 18.37,110, 18.38,-213, 18.38,-60, 18.39,16,
  18.40,50, 18.41,-100, 18.42,80, 18.43,-30, 18.44,127, 18.44,10, 18.45,-70, 18.46,60, 18.47,-10, 18.48,90, 18.49,-50,
  18.50,20, 18.51,110, 18.52,-80, 18.53,40, 18.54,-30, 18.55,70, 18.56,-120, 18.57,0, 18.58,-149, 18.58,50, 18.59,-40,
  18.60,90, 18.61,147, 18.61,-60, 18.62,20, 18.63,-100, 18.64,60, 18.65,-20, 18.66,100, 18.67,150, 18.67,-70, 18.68,30, 18.69,-40,
  18.70,-284, 18.70,70, 18.71,-10, 18.72,-110, 18.73,40, 18.74,120, 18.75,-60, 18.76,10, 18.77,-130, 18.78,80, 18.79,-20,
  18.80,50, 18.81,-208, 18.81,100, 18.82,-40, 18.83,60, 18.84,-150, 18.85,10, 18.86,230, 18.86,130, 18.87,-80, 18.88,30, 18.89,-10,
  18.90,90, 18.91,-120, 18.92,40, 18.93,-60, 18.94,194, 18.94,80, 18.95,-20, 18.96,273, 18.96,-170, 18.97,110, 18.98,10, 18.99,-90,
  19.00,60, 19.01,-140, 19.02,160, 19.03,-30, 19.04,100, 19.05,-200, 19.06,20, 19.07,140, 19.08,-80, 19.09,40,
  19.10,-250, 19.11,190, 19.12,-20, 19.13,80, 19.14,-110, 19.15,340, 19.15,30, 19.16,-170, 19.17,120, 19.18,-50, 19.19,220,
  19.20,-300, 19.21,60, 19.22,-120, 19.23,160, 19.24,0, 19.25,-80, 19.26,250, 19.27,-190, 19.28,90, 19.29,-30,
  19.30,180, 19.31,-240, 19.32,30, 19.33,-100, 19.34,300, 19.35,-60, 19.36,120, 19.37,-160, 19.38,50, 19.39,-320,
  19.40,220, 19.41,-40, 19.42,100, 19.43,-210, 19.44,270, 19.45,10, 19.46,-130, 19.47,170, 19.48,-270, 19.49,70,
  19.50,-20, 19.51,240, 19.52,-180, 19.53,130, 19.54,-90, 19.55,310, 19.56,40, 19.57,-250, 19.58,190, 19.59,-60,
  19.60,90, 19.61,-310, 19.62,280, 19.63,-120, 19.64,20, 19.65,200, 19.66,-200, 19.67,120, 19.68,-40, 19.69,330,
  19.70,-150, 19.71,60, 19.72,-280, 19.73,230, 19.74,-70, 19.75,150, 19.76,-220, 19.77,10, 19.78,290, 19.79,-100,
  19.80,180, 19.81,-330, 19.82,80, 19.83,-160, 19.84,250, 19.85,-30, 19.86,120, 19.87,-240, 19.88,310, 19.89,40,
  19.90,-190, 19.91,210, 19.92,-60, 19.93,140, 19.94,-290, 19.95,20, 19.96,260, 19.97,-120, 19.98,170, 19.99,-40,
  20.00,330, 20.01,-210, 20.02,90, 20.03,-300, 20.04,200, 20.05,-80, 20.06,140, 20.07,-170, 20.08,300, 20.09,0,
  20.10,-260, 20.11,110, 20.12,-40, 20.13,250, 20.14,-150, 20.15,60, 20.16,-320, 20.17,180, 20.18,-100, 20.19,280,
  20.20,30, 20.21,-230, 20.22,150, 20.23,-60, 20.24,320, 20.25,-180, 20.26,80, 20.27,-290, 20.28,220, 20.29,-20,
  20.30,110, 20.31,-140, 20.32,270, 20.33,-250, 20.34,40, 20.35,190, 20.36,-90, 20.37,-330, 20.38,130, 20.39,300,
  20.40,-200, 20.41,60, 20.42,-40, 20.43,240, 20.44,-280, 20.45,160, 20.46,-120, 20.47,340, 20.48,10, 20.49,-170,
  20.50,200, 20.51,-310, 20.52,90, 20.53,-60, 20.54,280, 20.55,-220, 20.56,140, 20.57,-20, 20.58,320, 20.59,-140,
  20.60,60, 20.61,-260, 20.62,230, 20.63,-100, 20.64,170, 20.65,-330, 20.66,30, 20.67,260, 20.68,-190, 20.69,100,
  20.70,-50, 20.71,300, 20.72,-240, 20.73,150, 20.74,-120, 20.75,200, 20.76,-300, 20.77,80, 20.78,-30, 20.79,250,
  20.80,-200, 20.81,120, 20.82,-340, 20.83,40, 20.84,190, 20.85,-150, 20.86,290, 20.87,-70, 20.88,100, 20.89,-260,
  20.90,330, 20.91,-20, 20.92,-180, 20.93,160, 20.94,-290, 20.95,60, 20.96,220, 20.97,-110, 20.98,310, 20.99,-50
];
const zMore = [
  17.005,12, 17.023,-22, 17.041,34, 17.058,0, 17.076,-30, 17.093,24, 17.111,-6, 17.129,46, 17.146,-18, 17.164,14, 17.181,30, 17.199,-26,
  17.216,40, 17.234,-8, 17.251,20, 17.269,-40, 17.286,8, 17.304,54, 17.321,-16, 17.339,26, 17.356,-30, 17.374,44, 17.391,0,
  17.409,-24, 17.426,20, 17.444,52, 17.461,-10, 17.479,30, 17.496,-46, 17.514,12, 17.531,40, 17.549,-20, 17.566,6, 17.584,62,
  17.601,-30, 17.619,18, 17.636,44, 17.654,-54, 17.671,10, 17.689,70, 17.706,-20, 17.724,32, 17.741,-60, 17.759,14, 17.776,48, 17.794,-8,
  17.811,26, 17.829,-44, 17.846,60, 17.864,-4, 17.881,36, 17.899,-70, 17.916,20, 17.934,90, 17.951,-26, 17.969,44, 17.986,-56,
  18.004,80, 18.021,-14, 18.039,40, 18.056,-80, 18.074,20, 18.091,100, 18.109,-40, 18.126,56, 18.144,-10, 18.161,84, 18.179,-60, 18.196,30,
  18.214,-100, 18.231,60, 18.249,10, 18.266,110, 18.284,-50, 18.301,40, 18.319,-130, 18.336,80, 18.354,-20, 18.371,130, 18.389,-80,
  18.406,30, 18.424,-40, 18.441,100, 18.459,-110, 18.476,50, 18.494,-10, 18.511,140, 18.529,-70, 18.546,20, 18.564,90, 18.581,-150, 18.599,40,
  18.616,-20, 18.634,120, 18.651,-90, 18.669,60, 18.686,-160, 18.704,20, 18.721,140, 18.739,-50, 18.756,80, 18.774,-120, 18.791,40,
  18.809,160, 18.826,-70, 18.844,30, 18.861,-180, 18.879,110, 18.896,-30, 18.914,180, 18.931,-100, 18.949,60, 18.966,-10, 18.984,140,
  19.002,-160, 19.019,90, 19.037,200, 19.054,-60, 19.072,40, 19.089,-240, 19.107,130, 19.124,-20, 19.142,60, 19.159,-120, 19.177,170, 19.194,20,
  19.212,-80, 19.229,230, 19.247,-150, 19.264,100, 19.282,-20, 19.299,160, 19.317,-200, 19.334,60, 19.352,-50, 19.369,240, 19.387,-110,
  19.404,40, 19.422,-260, 19.439,150, 19.457,-30, 19.474,80, 19.492,-140, 19.509,200, 19.527,-70, 19.544,20, 19.562,-290, 19.579,120, 19.597,-10,
  19.614,240, 19.632,-80, 19.649,60, 19.667,-250, 19.684,160, 19.702,-20, 19.719,100, 19.737,-170, 19.754,300, 19.772,-60, 19.789,40,
  19.807,-220, 19.824,140, 19.842,-90, 19.859,230, 19.877,20, 19.894,-150, 19.912,80, 19.929,-300, 19.947,190, 19.964,-20, 19.982,100,
  20.004,-120, 20.021,260, 20.039,-40, 20.056,60, 20.074,-260, 20.091,170, 20.109,-90, 20.126,30, 20.144,-200, 20.161,120, 20.179,-320, 20.196,230,
  20.214,-70, 20.231,90, 20.249,-160, 20.266,290, 20.284,-10, 20.301,-280, 20.319,60, 20.336,180, 20.354,-120, 20.371,20, 20.389,-230,
  20.406,120, 20.424,-80, 20.441,300, 20.459,-20, 20.476,-190, 20.494,100, 20.511,-260, 20.529,200, 20.546,-40, 20.564,60, 20.581,-300, 20.599,160,
  20.616,-170, 20.634,40, 20.651,260, 20.669,-60, 20.686,-240, 20.704,130, 20.721,-10, 20.739,-300, 20.756,60, 20.774,-150, 20.791,50,
  20.809,-90, 20.826,230, 20.844,-240, 20.861,20, 20.879,-130, 20.896,180, 20.914,-300, 20.931,80, 20.949,-60, 20.966,250, 20.984,-170, 20.997,40
];
const zCore = [
  18.305,30, 18.327,-60, 18.348,90, 18.369,-20, 18.391,50, 18.412,-120, 18.433,20, 18.455,70, 18.476,-40, 18.497,130,
  18.518,-90, 18.539,40, 18.561,-10, 18.582,100, 18.603,-70, 18.625,170, 18.646,0, 18.667,-130, 18.688,60, 18.709,-30,
  18.731,90, 18.752,-170, 18.773,130, 18.794,20, 18.816,-60, 18.837,80, 18.858,-220, 18.879,150, 18.901,-20, 18.922,60,
  18.943,-110, 18.964,200, 18.985,40, 19.007,-90, 19.028,120, 19.049,-20, 19.071,250, 19.092,-150, 19.113,60, 19.134,-50,
  19.156,150, 19.177,-230, 19.198,80, 19.219,-10, 19.241,190, 19.262,-120, 19.283,30, 19.304,270, 19.326,-80, 19.347,100,
  19.368,-180, 19.389,140, 19.411,-30, 19.432,60, 19.453,-240, 19.474,220, 19.496,-100, 19.517,10, 19.538,160, 19.559,-160,
  19.581,80, 19.602,-20, 19.623,250, 19.644,-280, 19.666,120, 19.687,-60, 19.708,40, 19.729,210, 19.751,-130, 19.772,90,
  19.793,-250, 19.814,0, 19.836,170, 19.857,-90, 19.878,280, 19.899,-40, 19.921,60, 19.942,-200, 19.963,130, 19.984,-300,
  20.006,110, 20.027,-70, 20.048,220, 20.069,-20, 20.091,40, 20.112,-240, 20.133,300, 20.154,-110, 20.176,70, 20.197,-160,
  20.218,190, 20.239,-10, 20.261,-260, 20.282,140, 20.303,50, 20.324,-90, 20.346,230, 20.367,-200, 20.388,80, 20.409,-30,
  20.431,170, 20.452,-310, 20.473,100, 20.494,30, 20.516,-130, 20.537,260, 20.558,-70, 20.579,120, 20.601,-230, 20.622,0,
  20.643,200, 20.664,-100, 20.686,70, 20.707,-280, 20.728,240, 20.749,20, 20.771,-160, 20.792,50, 20.813,300, 20.834,-40,
  20.856,-200, 20.877,140, 20.898,-90, 20.919,60, 20.941,-260, 20.962,170, 20.983,-20
];

const bandData = {
  u: uData.concat(uMore, uCore),
  g: gData.concat(gMore, gCore),
  r: rData.concat(rMore, rCore),
  i: iData.concat(iMore, iCore),
  z: zData.concat(zMore, zCore),
};

// Style
const frameColor = "#2a2a2a";
const textColor = "#1a1a1a";
const zeroColor = "#ff0000";
const fontFamily = "'DejaVu Serif', serif";

Chart.defaults.font.family = fontFamily;
Chart.defaults.color = textColor;

const toPoints = (arr) => {
  const pts = [];
  for (let k = 0; k + 1 < arr.length; k += 2) pts.push({ x: arr[k], y: arr[k + 1] / 1000 });
  return pts;
};

// One y axis per band, stacked on the left
const bandScale = (band, idx) => ({
  type: "linear",
  position: "left",
  stack: "bands",
  stackWeight: 1,
  weight: bands.length - idx,
  min: -0.35,
  max: 0.35,
  grid: { display: false, drawTicks: false },
  border: { display: false },
  afterBuildTicks: (scale) => {
    scale.ticks = dmagTicks.map((v) => ({ value: v }));
  },
  afterFit: (scale) => {
    scale.width = 103;
  },
  ticks: {
    padding: 18,
    labelOffset: 3,
    autoSkip: false,
    font: { size: 23 },
    callback: (value) => dmagTickLabels[dmagTicks.indexOf(value)],
  },
  title: {
    display: true,
    text: "\u0394mag",
    font: { size: 26 },
    padding: { top: 1, bottom: 0 },
  },
});

const scales = {
  x: {
    type: "linear",
    position: "bottom",
    min: magTicks[0],
    max: magTicks[magTicks.length - 1],
    grid: { display: false, drawTicks: false },
    border: { display: false },
    afterBuildTicks: (scale) => {
      scale.ticks = magTicks.map((v) => ({ value: v }));
    },
    afterFit: (scale) => {
      scale.height = 101.5;
    },
    ticks: {
      padding: 13,
      autoSkip: false,
      maxRotation: 0,
      font: { size: 23 },
      callback: (value) => String(value),
    },
    title: {
      display: true,
      text: "magnitude",
      font: { size: 26 },
      padding: { top: 0, bottom: 30 },
    },
  },
};
bands.forEach((band, idx) => {
  scales["y" + band] = bandScale(band, idx);
});

const datasets = [];
bands.forEach((band) => {
  datasets.push({
    label: band + " zero",
    data: [
      { x: magTicks[0], y: 0 },
      { x: magTicks[magTicks.length - 1], y: 0 },
    ],
    yAxisID: "y" + band,
    showLine: true,
    borderColor: zeroColor,
    borderWidth: 1.5,
    pointRadius: 0,
    order: 0,
  });
  datasets.push({
    label: band,
    data: toPoints(bandData[band]),
    yAxisID: "y" + band,
    pointStyle: "rect",
    pointRadius: 2.8,
    pointBorderWidth: 0,
    backgroundColor: "#000",
    borderColor: "#000",
    order: 1,
  });
});

// Clip each band to its own panel, then draw frames, inward ticks and band letters
const panelPlugin = {
  id: "panels",
  beforeDatasetDraw(chart, args) {
    const { ctx, chartArea } = chart;
    const y = args.meta.yScale;
    ctx.save();
    ctx.beginPath();
    ctx.rect(chartArea.left, y.top, chartArea.right - chartArea.left, y.bottom - y.top);
    ctx.clip();
  },
  afterDatasetDraw(chart) {
    chart.ctx.restore();
  },
  afterDraw(chart) {
    const { ctx, chartArea } = chart;
    const x = chart.scales.x;
    const left = chartArea.left,
      right = chartArea.right;
    ctx.save();
    ctx.strokeStyle = frameColor;
    ctx.lineWidth = 1.5;
    bands.forEach((band) => {
      const y = chart.scales["y" + band];
      const top = y.top,
        bot = y.bottom;
      ctx.strokeRect(left, top, right - left, bot - top);
      ctx.beginPath();
      for (let k = 1; k < 20; k++) {
        const px = x.getPixelForValue(magTicks[0] + k * 0.2);
        const len = k % 5 === 0 ? 17 : 8.5;
        ctx.moveTo(px, top);
        ctx.lineTo(px, top + len);
        ctx.moveTo(px, bot);
        ctx.lineTo(px, bot - len);
      }
      for (let k = -6; k <= 6; k++) {
        const py = y.getPixelForValue(k * 0.05);
        const len = k % 4 === 0 ? 17 : 8.5;
        ctx.moveTo(left, py);
        ctx.lineTo(left + len, py);
        ctx.moveTo(right, py);
        ctx.lineTo(right - len, py);
      }
      ctx.stroke();

      ctx.fillStyle = zeroColor;
      ctx.font = "26px " + fontFamily;
      ctx.textAlign = "center";
      ctx.textBaseline = "alphabetic";
      ctx.fillText(band, x.getPixelForValue(17.445), top + 21);
    });
    ctx.restore();
  },
};

new Chart(document.getElementById("residuals"), {
  type: "scatter",
  data: { datasets },
  options: {
    responsive: false,
    animation: false,
    layout: { padding: { top: 45, right: 43, left: 0, bottom: 0 } },
    plugins: { legend: { display: false }, tooltip: { enabled: false } },
    scales,
  },
  plugins: [panelPlugin],
});
</script>
</body>
</html>
